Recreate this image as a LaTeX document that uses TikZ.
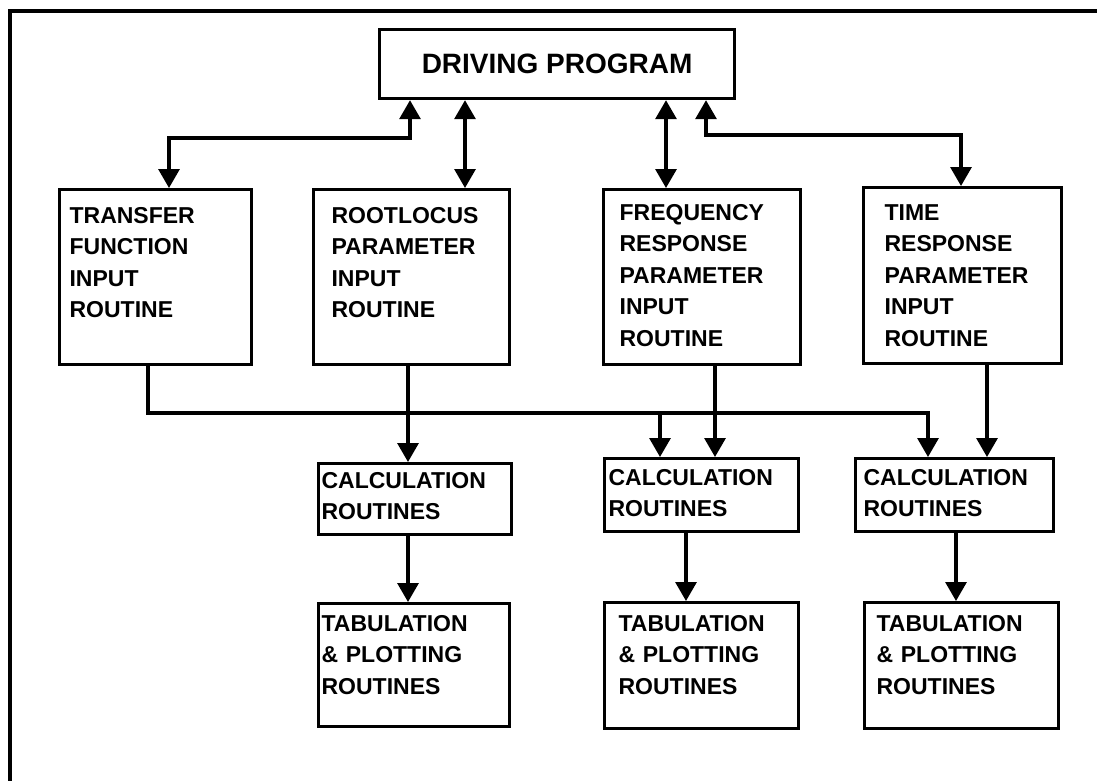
\documentclass[tikz,border=0pt]{standalone}
\usepackage{fontspec}
\setmainfont{Liberation Sans}
\usepackage{tikz}
\usetikzlibrary{arrows, arrows.meta}

\newcommand{\boxfont}{\fontsize{23}{31.5}\selectfont\bfseries}
\newcommand{\topfont}{\fontsize{28}{32}\selectfont\bfseries}

\tikzset{
  routine/.style={draw, line width=3.2pt, anchor=north west, align=left,
                  inner ysep=0pt, font=\boxfont},
  link/.style={line width=3.2pt},
  arrow/.style={link, -{Triangle[width=21pt,length=19pt]}},
  biarrow/.style={link, {Triangle[width=21pt,length=19pt]}-{Triangle[width=21pt,length=19pt]}}
}

\begin{document}
\begin{tikzpicture}[x=1pt, y=-1pt]
\useasboundingbox (0,0) rectangle (1097,781);

%frame
\draw[line width=4.5pt] (10,790) -- (10,11) -- (1105,11);

%driving program
\node[draw, line width=3.2pt, anchor=north west, minimum width=355pt, minimum height=69pt,
      inner sep=0pt, font=\topfont] (dp) at (378,28) {DRIVING PROGRAM};

%input routines
\node[routine, text width=172pt, inner xsep=10pt, text height=33.5pt, text depth=141.5pt]
  (tf) at (58,188) {TRANSFER\\FUNCTION\\INPUT\\ROUTINE};
\node[routine, text width=160pt, inner xsep=18pt, text height=33.5pt, text depth=141.5pt]
  (rl) at (312,188) {ROOTLOCUS\\PARAMETER\\INPUT\\ROUTINE};
\node[routine, text width=165pt, inner xsep=16pt, text height=30.5pt, text depth=144.5pt]
  (fr) at (602,188) {FREQUENCY\\RESPONSE\\PARAMETER\\INPUT\\ROUTINE};
\node[routine, text width=156pt, inner xsep=21pt, text height=32.5pt, text depth=143.5pt]
  (tr) at (862,186) {TIME\\RESPONSE\\PARAMETER\\INPUT\\ROUTINE};

%calculation routines
\node[routine, text width=187pt, inner xsep=3pt, text height=24.5pt, text depth=46.5pt]
  (c1) at (317,462) {CALCULATION\\ROUTINES};
\node[routine, text width=186pt, inner xsep=4pt, text height=26.5pt, text depth=46.5pt]
  (c2) at (603,457) {CALCULATION\\ROUTINES};
\node[routine, text width=182pt, inner xsep=8pt, text height=26.5pt, text depth=46.5pt]
  (c3) at (854,457) {CALCULATION\\ROUTINES};

%tabulation and plotting
\node[routine, text width=185pt, inner xsep=3pt, text height=27.5pt, text depth=95.5pt]
  (t1) at (317,602) {TABULATION\\\& PLOTTING\\ROUTINES};
\node[routine, text width=166pt, inner xsep=14pt, text height=28.5pt, text depth=97.5pt]
  (t2) at (603,601) {TABULATION\\\& PLOTTING\\ROUTINES};
\node[routine, text width=170pt, inner xsep=12pt, text height=28.5pt, text depth=97.5pt]
  (t3) at (863,601) {TABULATION\\\& PLOTTING\\ROUTINES};

%driving program links
\coordinate (k1) at (410,138);
\coordinate (k2) at (169,138);
\coordinate (k3) at (706,135);
\coordinate (k4) at (961,135);
\draw[biarrow] (k1 |- dp.south) -- (k1) -- (k2) -- (k2 |- tf.north);
\draw[biarrow] (465,0 |- dp.south) -- (465,0 |- rl.north);
\draw[biarrow] (666,0 |- dp.south) -- (666,0 |- fr.north);
\draw[biarrow] (k3 |- dp.south) -- (k3) -- (k4) -- (k4 |- tr.north);

%transfer function bus
\coordinate (bus0) at (148,413);
\coordinate (bus1) at (928,413);
\coordinate (bus2) at (660,413);
\draw[arrow] (bus0 |- tf.south) -- (bus0) -- (bus1) -- (bus1 |- c3.north);
\draw[arrow] (bus2) -- (bus2 |- c2.north);

%down arrows
\foreach \x/\a/\b in {408/rl/c1, 715/fr/c2, 987/tr/c3, 408/c1/t1, 686/c2/t2, 956/c3/t3}
  \draw[arrow] (\x,0 |- \a.south) -- (\x,0 |- \b.north);

\end{tikzpicture}
\end{document}
